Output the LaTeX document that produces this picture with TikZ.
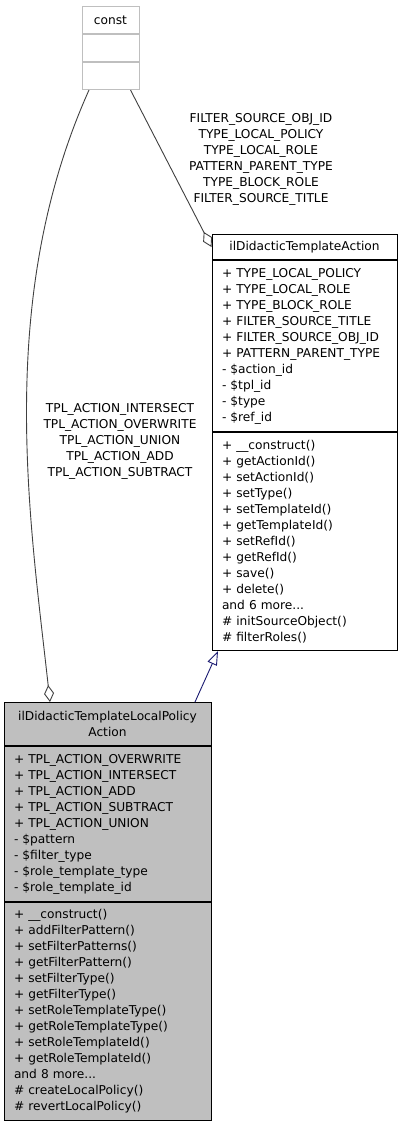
\documentclass[tikz,border=0pt]{standalone}
\usepackage{fontspec}
\setmainfont{DejaVu Sans}
\usetikzlibrary{positioning,arrows.meta,calc}
\definecolor{edgegray}{HTML}{404040}
\definecolor{boxgray}{HTML}{BFBFBF}
\definecolor{inheritblue}{HTML}{191970}

\begin{document}
\begin{tikzpicture}[
    x=1pt, y=-1pt,
    font=\fontsize{12.2}{16}\selectfont,
    cls/.style={draw=black, line width=1pt, fill=white, inner xsep=10pt, inner ysep=0pt, align=left},
    focus/.style={cls, fill=boxgray},
    ghost/.style={draw=boxgray, line width=1pt, fill=white, minimum width=57pt, minimum height=27pt, inner sep=0pt},
    agg/.style={draw=edgegray, line width=0.9pt, -{Diamond[open, length=17pt, width=10pt, fill=white]}},
    inherit/.style={draw=inheritblue, line width=0.9pt, -{Triangle[open, length=14pt, width=10pt, fill=white]}},
    elabel/.style={align=center, inner sep=0pt}
]
    \useasboundingbox (0,0) rectangle (403,1125);

    % 1. const (in alto)
    \node[ghost, anchor=north] (cst-head) at (110.5,6) {const};
    \node[ghost, below=0pt of cst-head] (cst-attr) {};
    \node[ghost, below=0pt of cst-attr] (cst-meth) {};

    % 2. ilDidacticTemplateAction (destra)
    \node[cls, anchor=north, text width=165pt, minimum height=25pt, align=center] (act-head) at (304.5,234) {ilDidacticTemplateAction};
    \node[cls, text width=165pt, minimum height=171pt, below=0pt of act-head] (act-attr) {
        + TYPE\_LOCAL\_POLICY\\
        + TYPE\_LOCAL\_ROLE\\
        + TYPE\_BLOCK\_ROLE\\
        + FILTER\_SOURCE\_TITLE\\
        + FILTER\_SOURCE\_OBJ\_ID\\
        + PATTERN\_PARENT\_TYPE\\
        - \$action\_id\\
        - \$tpl\_id\\
        - \$type\\
        - \$ref\_id
    };
    \node[cls, text width=165pt, minimum height=218pt, below=0pt of act-attr] (act-meth) {
        + \_\_construct()\\
        + getActionId()\\
        + setActionId()\\
        + setType()\\
        + setTemplateId()\\
        + getTemplateId()\\
        + setRefId()\\
        + getRefId()\\
        + save()\\
        + delete()\\
        and 6 more...\\
        \# initSourceObject()\\
        \# filterRoles()
    };

    % 3. ilDidacticTemplateLocalPolicyAction (in basso, evidenziata)
    \node[focus, anchor=north, text width=187pt, minimum height=43pt, align=center] (lp-head) at (107.5,702) {ilDidacticTemplateLocalPolicy\\Action};
    \node[focus, text width=187pt, minimum height=155pt, below=0pt of lp-head] (lp-attr) {
        + TPL\_ACTION\_OVERWRITE\\
        + TPL\_ACTION\_INTERSECT\\
        + TPL\_ACTION\_ADD\\
        + TPL\_ACTION\_SUBTRACT\\
        + TPL\_ACTION\_UNION\\
        - \$pattern\\
        - \$filter\_type\\
        - \$role\_template\_type\\
        - \$role\_template\_id
    };
    \node[focus, text width=187pt, minimum height=218pt, below=0pt of lp-attr] (lp-meth) {
        + \_\_construct()\\
        + addFilterPattern()\\
        + setFilterPatterns()\\
        + getFilterPattern()\\
        + setFilterType()\\
        + getFilterType()\\
        + setRoleTemplateType()\\
        + getRoleTemplateType()\\
        + setRoleTemplateId()\\
        + getRoleTemplateId()\\
        and 8 more...\\
        \# createLocalPolicy()\\
        \# revertLocalPolicy()
    };

    % =========================================================================
    % RELAZIONI
    % =========================================================================

    % --- const -> ilDidacticTemplateAction ---
    \draw[agg] ([xshift=20pt]cst-meth.south) -- (act-head.west);
    \node[elabel] (act-consts) at (261,159.5) {
        FILTER\_SOURCE\_OBJ\_ID\\
        TYPE\_LOCAL\_POLICY\\
        TYPE\_LOCAL\_ROLE\\
        PATTERN\_PARENT\_TYPE\\
        TYPE\_BLOCK\_ROLE\\
        FILTER\_SOURCE\_TITLE
    };

    % --- const -> ilDidacticTemplateLocalPolicyAction ---
    \draw[agg] ([xshift=-21.5pt]cst-meth.south) .. controls (-5,300) and (30,520) .. ([xshift=-57.5pt]lp-head.north);
    \node[elabel] (lp-consts) at (120,441) {
        TPL\_ACTION\_INTERSECT\\
        TPL\_ACTION\_OVERWRITE\\
        TPL\_ACTION\_UNION\\
        TPL\_ACTION\_ADD\\
        TPL\_ACTION\_SUBTRACT
    };

    % --- ereditarieta' ---
    \draw[inherit] ([xshift=87.5pt]lp-head.north) -- ([xshift=-86.5pt]act-meth.south);

\end{tikzpicture}
\end{document}
